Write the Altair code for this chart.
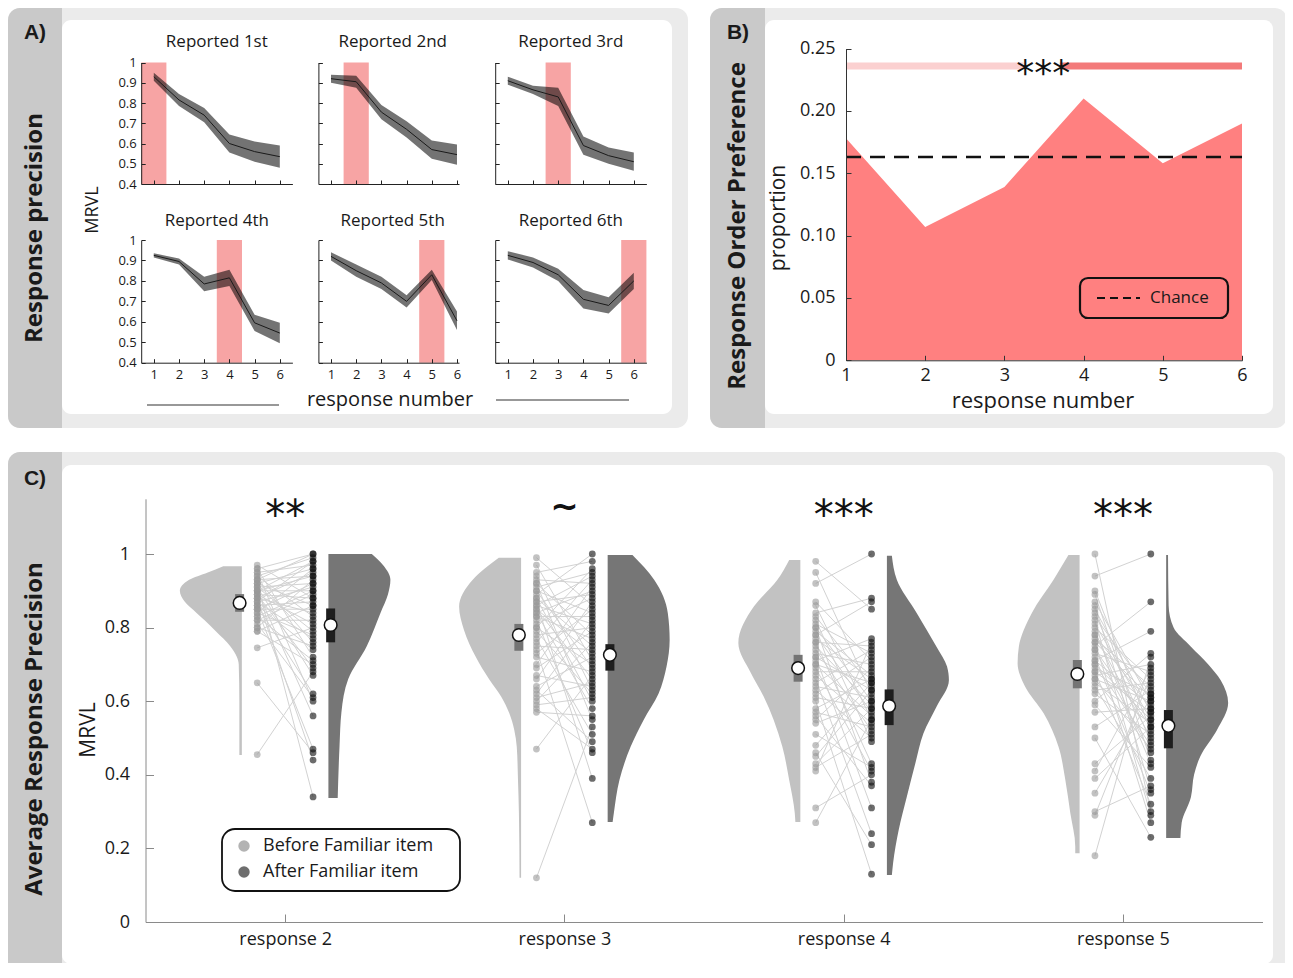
import altair as alt
import pandas as pd

# ================= DATA =================
# ---- Panel A : precision per response position, by familiar-item report order ----
A_RESP = [1, 2, 3, 4, 5, 6]
A_TITLES = ["Reported 1st", "Reported 2nd", "Reported 3rd",
            "Reported 4th", "Reported 5th", "Reported 6th"]
A_REPORTED = [1, 2, 3, 4, 5, 6]
A_MEAN = [
    [0.930, 0.815, 0.740, 0.600, 0.560, 0.535],
    [0.920, 0.905, 0.755, 0.670, 0.570, 0.545],
    [0.910, 0.865, 0.830, 0.590, 0.540, 0.510],
    [0.925, 0.895, 0.785, 0.815, 0.595, 0.545],
    [0.920, 0.850, 0.790, 0.700, 0.830, 0.605],
    [0.925, 0.890, 0.830, 0.710, 0.680, 0.800],
]
A_SEM = [
    [0.020, 0.030, 0.035, 0.045, 0.050, 0.055],
    [0.020, 0.030, 0.035, 0.040, 0.045, 0.050],
    [0.020, 0.020, 0.045, 0.045, 0.040, 0.045],
    [0.010, 0.015, 0.035, 0.040, 0.040, 0.050],
    [0.020, 0.030, 0.030, 0.030, 0.025, 0.045],
    [0.020, 0.025, 0.030, 0.045, 0.040, 0.040],
]
A_YTICKS = [0.4, 0.5, 0.6, 0.7, 0.8, 0.9, 1.0]

# ---- Panel B : response order preference ----
B_RESP = [1, 2, 3, 4, 5, 6]
B_PROP = [0.178, 0.107, 0.139, 0.210, 0.158, 0.190]
B_CHANCE = 0.163
B_SIG_FROM = [1.0, 3.70]
B_SIG_TO = [3.24, 6.0]
B_SIG_Y = 0.236
B_SIG_X = 3.49
B_YTICKS = [0, 0.05, 0.10, 0.15, 0.20, 0.25]

# ---- Panel C : before vs after familiar item ----
C_RESP = [2, 3, 4, 5]
C_SIG = ["**", "~", "***", "***"]
C_SIG_Y = 1.125
C_YTICKS = [0, 0.2, 0.4, 0.6, 0.8, 1.0]

BEFORE_2 = [0.97, 0.96, 0.96, 0.95, 0.95, 0.94, 0.94, 0.93, 0.93, 0.93,
            0.92, 0.92, 0.92, 0.91, 0.91, 0.91, 0.90, 0.90, 0.90, 0.90,
            0.89, 0.89, 0.89, 0.88, 0.88, 0.88, 0.87, 0.87, 0.87, 0.86,
            0.86, 0.86, 0.85, 0.85, 0.85, 0.84, 0.84, 0.83, 0.83, 0.82,
            0.82, 0.81, 0.80, 0.80, 0.79, 0.79, 0.745, 0.65, 0.455]
AFTER_2 = [0.88, 1.00, 0.72, 0.97, 0.60, 0.99, 0.83, 0.94, 0.76, 1.00,
           0.86, 0.34, 0.96, 0.79, 0.92, 0.67, 0.98, 0.90, 0.56, 0.94,
           0.81, 0.88, 0.69, 0.95, 0.84, 0.44, 0.91, 0.77, 0.98, 0.62,
           0.87, 0.74, 0.92, 0.85, 0.47, 0.96, 0.78, 0.90, 0.71, 0.89,
           0.82, 0.61, 0.93, 0.75, 0.86, 0.70, 0.80, 0.46, 0.68]
BEFORE_3 = [0.99, 0.97, 0.95, 0.94, 0.93, 0.92, 0.92, 0.91, 0.90, 0.90,
            0.89, 0.88, 0.88, 0.87, 0.87, 0.86, 0.86, 0.85, 0.85, 0.84,
            0.84, 0.83, 0.83, 0.82, 0.81, 0.80, 0.80, 0.79, 0.78, 0.77,
            0.76, 0.75, 0.74, 0.73, 0.72, 0.70, 0.69, 0.67, 0.66, 0.64,
            0.63, 0.62, 0.61, 0.60, 0.59, 0.58, 0.57, 0.47, 0.12]
AFTER_3 = [0.86, 0.71, 0.98, 0.63, 0.92, 0.78, 0.55, 0.95, 0.69, 0.84,
           1.00, 0.60, 0.75, 0.89, 0.39, 0.81, 0.94, 0.66, 0.73, 0.90,
           0.58, 0.83, 0.77, 0.46, 0.88, 0.70, 0.96, 0.62, 0.80, 0.51,
           0.93, 0.74, 0.27, 0.85, 0.68, 0.91, 0.79, 0.64, 0.87, 0.72,
           0.49, 0.82, 0.65, 0.76, 0.61, 0.47, 0.56, 0.67, 0.53]
BEFORE_4 = [0.98, 0.95, 0.92, 0.87, 0.86, 0.84, 0.83, 0.82, 0.81, 0.80,
            0.80, 0.79, 0.78, 0.78, 0.77, 0.76, 0.76, 0.75, 0.74, 0.73,
            0.72, 0.72, 0.71, 0.70, 0.70, 0.69, 0.68, 0.67, 0.66, 0.65,
            0.64, 0.63, 0.62, 0.61, 0.60, 0.58, 0.57, 0.56, 0.55, 0.54,
            0.51, 0.48, 0.46, 0.45, 0.43, 0.42, 0.41, 0.31, 0.27]
AFTER_4 = [0.85, 0.62, 1.00, 0.71, 0.55, 0.88, 0.64, 0.49, 0.73, 0.60,
           0.38, 0.67, 0.87, 0.57, 0.66, 0.43, 0.75, 0.59, 0.52, 0.70,
           0.31, 0.63, 0.77, 0.56, 0.65, 0.41, 0.68, 0.54, 0.24, 0.74,
           0.61, 0.50, 0.72, 0.58, 0.13, 0.66, 0.53, 0.37, 0.69, 0.60,
           0.42, 0.65, 0.21, 0.63, 0.58, 0.51, 0.76, 0.40, 0.55]
BEFORE_5 = [1.00, 0.94, 0.90, 0.89, 0.87, 0.86, 0.85, 0.84, 0.83, 0.82,
            0.81, 0.80, 0.79, 0.78, 0.78, 0.77, 0.76, 0.76, 0.75, 0.74,
            0.74, 0.73, 0.72, 0.71, 0.71, 0.70, 0.70, 0.69, 0.68, 0.68,
            0.67, 0.66, 0.66, 0.65, 0.64, 0.63, 0.62, 0.60, 0.59, 0.57,
            0.53, 0.50, 0.43, 0.41, 0.39, 0.35, 0.30, 0.29, 0.18]
AFTER_5 = [0.30, 1.00, 0.52, 0.44, 0.60, 0.36, 0.57, 0.49, 0.62, 0.29,
           0.55, 0.66, 0.43, 0.58, 0.50, 0.64, 0.27, 0.61, 0.87, 0.53,
           0.46, 0.68, 0.35, 0.59, 0.79, 0.48, 0.55, 0.62, 0.32, 0.57,
           0.70, 0.47, 0.60, 0.54, 0.39, 0.65, 0.51, 0.73, 0.42, 0.58,
           0.63, 0.23, 0.56, 0.69, 0.53, 0.61, 0.37, 0.67, 0.72]
C_BEFORE = [BEFORE_2, BEFORE_3, BEFORE_4, BEFORE_5]
C_AFTER = [AFTER_2, AFTER_3, AFTER_4, AFTER_5]

MEAN_BEFORE = [0.867, 0.780, 0.690, 0.674]
MEAN_AFTER = [0.807, 0.726, 0.587, 0.533]
SE_BEFORE_LO = [0.843, 0.737, 0.653, 0.635]
SE_BEFORE_HI = [0.891, 0.810, 0.726, 0.712]
SE_AFTER_LO = [0.760, 0.683, 0.535, 0.472]
SE_AFTER_HI = [0.852, 0.755, 0.632, 0.576]

# violin outlines: level (MRVL) and relative density width
VIOLIN_BEFORE_Y = [
    [0.967, 0.95, 0.93, 0.90, 0.87, 0.84, 0.82, 0.79, 0.75, 0.72, 0.70, 0.60, 0.50, 0.454],
    [0.99, 0.93, 0.857, 0.793, 0.72, 0.658, 0.612, 0.567, 0.522, 0.476, 0.386, 0.296, 0.12],
    [0.984, 0.93, 0.857, 0.758, 0.677, 0.612, 0.549, 0.476, 0.386, 0.296, 0.272],
    [0.997, 0.93, 0.84, 0.748, 0.703, 0.64, 0.567, 0.476, 0.386, 0.296, 0.205, 0.187],
]
VIOLIN_BEFORE_W = [
    [0.30, 0.55, 0.85, 1.00, 0.92, 0.73, 0.60, 0.42, 0.19, 0.08, 0.05, 0.04, 0.04, 0.04],
    [0.36, 0.78, 1.00, 0.92, 0.73, 0.51, 0.32, 0.19, 0.11, 0.07, 0.05, 0.035, 0.025],
    [0.18, 0.37, 0.75, 1.00, 0.80, 0.59, 0.43, 0.29, 0.18, 0.09, 0.08],
    [0.18, 0.42, 0.77, 0.98, 1.00, 0.88, 0.58, 0.34, 0.23, 0.15, 0.07, 0.07],
]
VIOLIN_AFTER_Y = [
    [1.0, 0.97, 0.93, 0.89, 0.84, 0.75, 0.66, 0.57, 0.48, 0.337],
    [0.997, 0.93, 0.84, 0.766, 0.694, 0.62, 0.549, 0.476, 0.386, 0.296, 0.272],
    [0.995, 0.93, 0.84, 0.748, 0.694, 0.657, 0.585, 0.513, 0.432, 0.34, 0.25, 0.16, 0.128],
    [0.997, 0.86, 0.80, 0.748, 0.70, 0.657, 0.595, 0.522, 0.45, 0.40, 0.34, 0.27, 0.228],
]
VIOLIN_AFTER_W = [
    [0.70, 0.88, 1.00, 0.96, 0.84, 0.62, 0.32, 0.21, 0.18, 0.15],
    [0.40, 0.75, 0.97, 1.00, 0.95, 0.82, 0.58, 0.37, 0.19, 0.10, 0.08],
    [0.08, 0.16, 0.48, 0.80, 0.97, 1.00, 0.80, 0.59, 0.46, 0.32, 0.19, 0.10, 0.08],
    [0.03, 0.04, 0.12, 0.40, 0.68, 0.88, 1.00, 0.82, 0.55, 0.45, 0.40, 0.25, 0.23],
]

# ================= LAYOUT / STYLE =================
W, H = 1277, 955
FONT = "Open Sans"
INK = "#1a1a1a"
ONE = alt.Data(values=[{"k": 0}])

VGAP, VMAX, DOT_OFF, MEAN_OFF = 0.155, 0.222, 0.10, 0.163


def px(v):
    return v - 8


def box(x1, y1, x2, y2, **kw):
    return alt.Chart(ONE).mark_rect(**kw).encode(
        x=alt.value(px(x1)), x2=alt.value(px(x2)),
        y=alt.value(px(y1)), y2=alt.value(px(y2)))


def label(txt, x, y, size, weight="normal", angle=0, align="center",
          color=INK, font=FONT):
    kw = dict(text=txt, fontSize=size, fontWeight=weight, align=align,
              baseline="middle", color=color, font=font)
    if angle:
        kw["angle"] = angle
    return alt.Chart(ONE).mark_text(**kw).encode(x=alt.value(px(x)), y=alt.value(px(y)))


def hline(x1, x2, y, color, width, dash=None):
    kw = dict(color=color, strokeWidth=width)
    if dash:
        kw["strokeDash"] = dash
    return alt.Chart(ONE).mark_rule(**kw).encode(
        x=alt.value(px(x1)), x2=alt.value(px(x2)), y=alt.value(px(y)))


def sc(dom, rng):
    return alt.Scale(domain=dom, range=rng, nice=False, zero=False)


def xaxis(y_img, values, tick, pad, size, color, labels=True, **kw):
    return alt.Axis(orient="top", offset=-px(y_img), values=values, labels=labels,
                    tickSize=tick, labelPadding=-(tick + pad), labelBaseline="top",
                    labelAlign="center", labelFlush=False, labelFont=FONT,
                    labelFontSize=size, labelColor=INK, domainColor=color,
                    tickColor=color, grid=False, title=None, zindex=1, **kw)


def yaxis(x_img, values, tick, pad, size, color, labels=True, **kw):
    return alt.Axis(orient="right", offset=px(x_img) - W, values=values, labels=labels,
                    tickSize=tick, labelPadding=-(tick + pad), labelAlign="right",
                    labelBaseline="middle", labelFont=FONT, labelFontSize=size,
                    labelColor=INK, domainColor=color, tickColor=color, grid=False,
                    title=None, zindex=1, labelOverlap=False, **kw)


def stars(size):
    # six-armed asterisks, nudged down to sit on the requested level
    return dict(fontSize=size, font="DejaVu Sans", color="#111", baseline="middle",
                dy=size * 0.22)


layers = []

# ---------- frames ----------
FRAME, STRIP = "#ebebeb", "#c9c9c9"
for (x1, y1, x2, y2, sx, ix2, iy1, iy2) in [
        (8, 8, 688, 428, 62, 672, 20, 414),
        (710, 8, 1287, 428, 765, 1273, 20, 414),
        (8, 452, 1287, 975, 62, 1273, 465, 964)]:
    layers.append(box(x1, y1, x2, y2, fill=FRAME, cornerRadius=12))
    layers.append(box(x1, y1, sx, y2, fill=STRIP, cornerRadiusTopLeft=12,
                      cornerRadiusBottomLeft=12))
    layers.append(box(sx, iy1, ix2, iy2, fill="white", cornerRadius=9))

layers += [
    label("A)", 35, 33, 21, "bold", font="Liberation Sans"),
    label("B)", 738, 33, 21, "bold", font="Liberation Sans"),
    label("C)", 35, 479, 21, "bold", font="Liberation Sans"),
    label("Response precision", 35, 228, 24, "bold", angle=270),
    label("Response Order Preference", 738, 226, 24, "bold", angle=270),
    label("Average Response Precision", 35, 729, 24, "bold", angle=270),
]

# ---------- Panel A ----------
A_COLS = [(141.2, 292.4, 6.5), (318.4, 459.0, 6.08), (495.2, 646.4, 6.5)]
A_ROWS = [(184.0, 62.5, 41.5), (362.7, 240.0, 221.0)]
for k in range(6):
    r, c = divmod(k, 3)
    x0, x1, xmax = A_COLS[c]
    yb, yt, ttl = A_ROWS[r]
    xs = sc([0.5, xmax], [px(x0), px(x1)])
    ys = sc([0.4, 1.0], [px(yb), px(yt)])
    df = pd.DataFrame({
        "resp": A_RESP, "m": A_MEAN[k],
        "lo": [m - e for m, e in zip(A_MEAN[k], A_SEM[k])],
        "hi": [m + e for m, e in zip(A_MEAN[k], A_SEM[k])],
    })
    hl = pd.DataFrame({"a": [A_REPORTED[k] - 0.5], "b": [A_REPORTED[k] + 0.5]})
    layers.append(alt.Chart(hl).mark_rect(color="#f7a4a4").encode(
        x=alt.X("a:Q", scale=xs, axis=None), x2="b",
        y=alt.YDatum(1.0, scale=ys, axis=None), y2=alt.Y2Datum(0.4)))
    layers.append(alt.Chart(df).mark_area(color="#000000", opacity=0.55).encode(
        x=alt.X("resp:Q", scale=xs, axis=None),
        y=alt.Y("lo:Q", scale=ys, axis=None, stack=None), y2="hi"))
    layers.append(alt.Chart(df).mark_line(color="#1a1a1a", strokeWidth=1).encode(
        x=alt.X("resp:Q", scale=xs,
                axis=xaxis(yb, A_RESP, 4, 6, 13, "#222", labels=(r == 1))),
        y=alt.Y("m:Q", scale=ys,
                axis=yaxis(x0, A_YTICKS, 4, 5, 13, "#222", labels=(c == 0), format="~g"))))
    layers.append(label(A_TITLES[k], (x0 + x1) / 2 + (4 if c == 1 else 0), ttl, 17))

layers += [
    label("MRVL", 93, 210, 18, angle=270),
    label("response number", 390, 400, 20),
    hline(147, 279, 405, "#333", 1.2),
    hline(496, 629, 400, "#333", 1.2),
]

# ---------- Panel B ----------
bxs = sc([1, 6], [px(846), px(1242)])
bys = sc([0, 0.25], [px(360.3), px(48.6)])
bdf = pd.DataFrame({"resp": B_RESP, "prop": B_PROP})
layers.append(alt.Chart(bdf).mark_area(color="#ff8080", opacity=1).encode(
    x=alt.X("resp:Q", scale=bxs, axis=xaxis(360.3, B_RESP, 5, 6, 18, "#333")),
    y=alt.Y("prop:Q", scale=bys, stack=None,
            axis=yaxis(846, B_YTICKS, 5, 11, 18, "#333",
                       labelExpr="datum.value == 0 ? '0' : format(datum.value, '.2f')")),
    y2=alt.Y2Datum(0)))
layers.append(alt.Chart(ONE).mark_rule(color="#111", strokeWidth=2.5, strokeDash=[15, 9]).encode(
    x=alt.XDatum(1, scale=bxs, axis=None), x2=alt.X2Datum(6),
    y=alt.YDatum(B_CHANCE, scale=bys, axis=None)))
for a, b, col in zip(B_SIG_FROM, B_SIG_TO, ["#fbd0d0", "#f37a7a"]):
    sig = pd.DataFrame({"a": [a], "b": [b]})
    layers.append(alt.Chart(sig).mark_rule(color=col, strokeWidth=7).encode(
        x=alt.X("a:Q", scale=bxs, axis=None), x2="b",
        y=alt.YDatum(B_SIG_Y, scale=bys, axis=None)))
layers.append(alt.Chart(ONE).mark_text(text="***", **stars(36)).encode(
    x=alt.XDatum(B_SIG_X, scale=bxs, axis=None),
    y=alt.YDatum(B_SIG_Y, scale=bys, axis=None)))
layers += [
    box(1080, 278, 1228, 318, fillOpacity=0, stroke="#111", strokeWidth=2.2, cornerRadius=8),
    hline(1097, 1140, 298, "#111", 2, dash=[8, 5]),
    label("Chance", 1150, 298, 17, align="left"),
    label("proportion", 779, 218, 21, angle=270),
    label("response number", 1043, 401, 22),
]

# ---------- Panel C ----------
C_PX = [px(145.5), px(1262.5)]
cxs = sc([1.5, 5.5], C_PX)
cys = sc([0, 1.15], [px(922), px(922 - 1.15 * 368)])

# half violins: each one drawn on an x scale whose zero sits at the violin's flat edge
for side, YL, WL, col in [
        ("before", VIOLIN_BEFORE_Y, VIOLIN_BEFORE_W, "#c2c2c2"),
        ("after", VIOLIN_AFTER_Y, VIOLIN_AFTER_W, "#767676")]:
    for g, yl, wl in zip(C_RESP, YL, WL):
        edge = g - VGAP if side == "before" else g + VGAP
        sgn = -1 if side == "before" else 1
        vxs = sc([1.5 - edge, 5.5 - edge], C_PX)
        vdf = pd.DataFrame({"y": yl, "w": [sgn * w * VMAX for w in wl]})
        layers.append(alt.Chart(vdf).mark_area(
            orient="horizontal", color=col, interpolate="monotone", opacity=1).encode(
            y=alt.Y("y:Q", scale=cys, axis=None),
            x=alt.X("w:Q", scale=vxs, axis=None, stack=None)))

pair_rows, bdots, adots = [], [], []
for g, bef, aft in zip(C_RESP, C_BEFORE, C_AFTER):
    for i, (b, a) in enumerate(zip(bef, aft)):
        pid = f"{g}-{i}"
        pair_rows.append({"pid": pid, "x": g - DOT_OFF, "y": b})
        pair_rows.append({"pid": pid, "x": g + DOT_OFF, "y": a})
        bdots.append({"x": g - DOT_OFF, "y": b})
        adots.append({"x": g + DOT_OFF, "y": a})

layers.append(alt.Chart(pd.DataFrame(pair_rows)).mark_line(color="#d2d2d2", strokeWidth=1).encode(
    x=alt.X("x:Q", scale=cxs, axis=None), y=alt.Y("y:Q", scale=cys, axis=None),
    detail="pid:N"))
layers.append(alt.Chart(pd.DataFrame(bdots)).mark_circle(size=46, color="#999999", opacity=0.6).encode(
    x=alt.X("x:Q", scale=cxs, axis=None), y=alt.Y("y:Q", scale=cys, axis=None)))
layers.append(alt.Chart(pd.DataFrame(adots)).mark_circle(size=46, color="#111111", opacity=0.62).encode(
    x=alt.X("x:Q", scale=cxs, axis=None), y=alt.Y("y:Q", scale=cys, axis=None)))

for sign, mean, lo, hi, col in [(-1, MEAN_BEFORE, SE_BEFORE_LO, SE_BEFORE_HI, "#747474"),
                                (1, MEAN_AFTER, SE_AFTER_LO, SE_AFTER_HI, "#1e1e1e")]:
    md = pd.DataFrame({"x": [g + sign * MEAN_OFF for g in C_RESP], "m": mean, "lo": lo, "hi": hi})
    layers.append(alt.Chart(md).mark_rule(color=col, strokeWidth=9, strokeCap="butt").encode(
        x=alt.X("x:Q", scale=cxs, axis=None), y=alt.Y("lo:Q", scale=cys, axis=None), y2="hi"))
    layers.append(alt.Chart(md).mark_circle(size=160, fill="white", stroke="#111",
                                            strokeWidth=1.5, opacity=1).encode(
        x=alt.X("x:Q", scale=cxs, axis=None), y=alt.Y("m:Q", scale=cys, axis=None)))

sigdf = pd.DataFrame({"g": C_RESP, "s": C_SIG})
layers.append(alt.Chart(sigdf).transform_filter("datum.s != '~'").mark_text(**stars(40)).encode(
    x=alt.X("g:Q", scale=cxs, axis=None),
    y=alt.YDatum(C_SIG_Y, scale=cys, axis=None), text="s:N"))
layers.append(alt.Chart(sigdf).transform_filter("datum.s == '~'").mark_text(
    fontSize=34, font="DejaVu Sans", fontWeight="bold", color="#111", baseline="middle").encode(
    x=alt.X("g:Q", scale=cxs, axis=None),
    y=alt.YDatum(C_SIG_Y, scale=cys, axis=None), text="s:N"))

# axes for C (attached to an invisible layer)
layers.append(alt.Chart(pd.DataFrame({"g": C_RESP, "v": MEAN_BEFORE})).mark_point(opacity=0).encode(
    x=alt.X("g:Q", scale=cxs,
            axis=xaxis(922, C_RESP, 8, 8, 18, "#8a8a8a", labelExpr="'response ' + datum.value")),
    y=alt.Y("v:Q", scale=cys, axis=yaxis(145.5, C_YTICKS, 8, 16, 18, "#8a8a8a", format="~g"))))

layers += [
    label("MRVL", 89, 730, 21, angle=270),
    box(222, 829, 460, 891, fillOpacity=0, stroke="#111", strokeWidth=1.8, cornerRadius=13),
    alt.Chart(ONE).mark_circle(size=130, color="#b3b3b3", opacity=1).encode(
        x=alt.value(px(244)), y=alt.value(px(846))),
    alt.Chart(ONE).mark_circle(size=130, color="#6e6e6e", opacity=1).encode(
        x=alt.value(px(244)), y=alt.value(px(872))),
    label("Before Familiar item", 263, 846, 18, align="left"),
    label("After Familiar item", 263, 872, 18, align="left"),
]

chart = alt.layer(*layers).properties(
    width=W, height=H, padding=0,
    autosize=alt.AutoSizeParams(type="none"), background="white",
).resolve_scale(x="independent", y="independent").resolve_axis(
    x="independent", y="independent").configure_view(stroke=None)

chart.save("out.html", embed_options={"renderer": "svg", "actions": False})
